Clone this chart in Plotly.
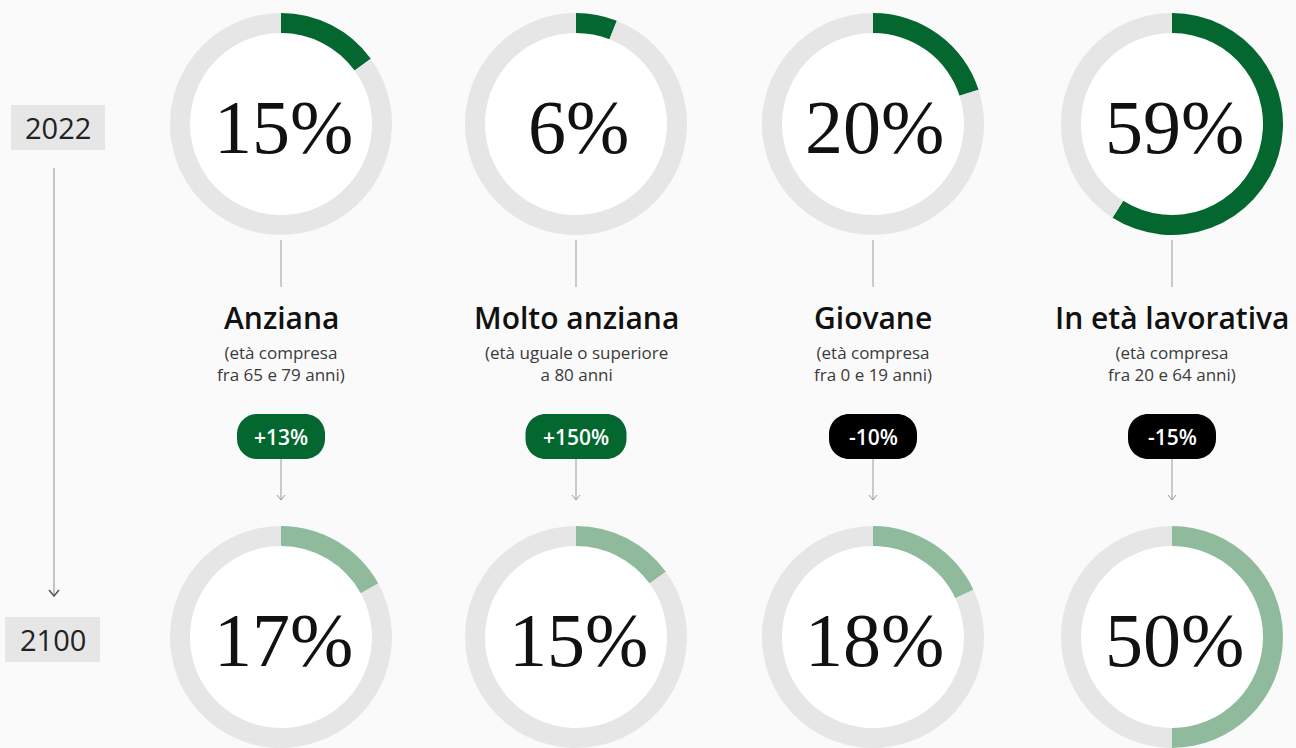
import plotly.graph_objects as go

W, H = 1296, 748

# ---- data ----
categories = ["Anziana", "Molto anziana", "Giovane", "In età lavorativa"]
subtitles = [
    "(età compresa<br>fra 65 e 79 anni)",
    "(età uguale o superiore<br>a 80 anni",
    "(età compresa<br>fra 0 e 19 anni)",
    "(età compresa<br>fra 20 e 64 anni)",
]
share_2022 = [15, 6, 20, 59]
share_2100 = [17, 15, 18, 50]
changes = ["+13%", "+150%", "-10%", "-15%"]
years = ["2022", "2100"]

# ---- style ----
BG = "#fafafa"
RING = "#e6e6e6"
DARK_GREEN = "#03672f"
LIGHT_GREEN = "#8fbb9c"
col_x = [281, 576, 873, 1172]
row_y = [124, 637]
R_OUT = 111
HOLE = 0.82
SERIF = "Liberation Serif, Times New Roman, serif"
SANS = "Open Sans, Noto Sans, sans-serif"


def px(x):
    return x / W


def py(y):
    return 1 - y / H


fig = go.Figure()
shapes = []
annotations = []

for row, (vals, col) in enumerate([(share_2022, DARK_GREEN), (share_2100, LIGHT_GREEN)]):
    cy = row_y[row]
    for i, v in enumerate(vals):
        cx = col_x[i]
        ri = R_OUT * HOLE + 0.5
        shapes.append(dict(type="circle", xref="paper", yref="paper", layer="below",
                           x0=px(cx - ri), x1=px(cx + ri), y0=py(cy + ri), y1=py(cy - ri),
                           fillcolor="white", line=dict(width=0)))
        fig.add_trace(go.Pie(
            values=[v, 100 - v],
            marker=dict(colors=[col, RING], line=dict(width=0)),
            hole=HOLE, sort=False, direction="clockwise", rotation=0,
            textinfo="none", hoverinfo="skip", showlegend=False,
            domain=dict(x=[px(cx - R_OUT), px(cx + R_OUT)],
                        y=[py(cy + R_OUT), py(cy - R_OUT)]),
        ))
        annotations.append(dict(x=px(cx + 2), y=py(cy + 3), xref="paper", yref="paper",
                                text=f"{v}%", showarrow=False, xanchor="center", yanchor="middle",
                                font=dict(family=SERIF, size=76, color="#111")))

# connectors, titles, badges
for i, cx in enumerate(col_x):
    shapes.append(dict(type="line", xref="paper", yref="paper",
                       x0=px(cx), x1=px(cx), y0=py(240), y1=py(287),
                       line=dict(color="#9a9a9a", width=1)))
    annotations.append(dict(x=px(cx), y=py(318), xref="paper", yref="paper",
                            text=categories[i], showarrow=False, xanchor="center", yanchor="middle",
                            font=dict(family=SANS, size=30, color="#111", weight=600)))
    annotations.append(dict(x=px(cx), y=py(364), xref="paper", yref="paper",
                            text=subtitles[i], showarrow=False, xanchor="center", yanchor="middle",
                            font=dict(family=SANS, size=17, color="#3a3a3a")))
    # badge
    bw = 101 if len(changes[i]) > 4 else 88
    bh = 45
    x0, x1 = cx - bw / 2, cx + bw / 2
    y0, y1 = 414, 414 + bh
    r = 20
    k = 0.5523 * r
    pth = (f"M {px(x0 + r)},{py(y0)} L {px(x1 - r)},{py(y0)} "
           f"C {px(x1 - r + k)},{py(y0)} {px(x1)},{py(y0 + r - k)} {px(x1)},{py(y0 + r)} "
           f"L {px(x1)},{py(y1 - r)} "
           f"C {px(x1)},{py(y1 - r + k)} {px(x1 - r + k)},{py(y1)} {px(x1 - r)},{py(y1)} "
           f"L {px(x0 + r)},{py(y1)} "
           f"C {px(x0 + r - k)},{py(y1)} {px(x0)},{py(y1 - r + k)} {px(x0)},{py(y1 - r)} "
           f"L {px(x0)},{py(y0 + r)} "
           f"C {px(x0)},{py(y0 + r - k)} {px(x0 + r - k)},{py(y0)} {px(x0 + r)},{py(y0)} Z")
    bcol = DARK_GREEN if changes[i].startswith("+") else "#000000"
    shapes.append(dict(type="path", xref="paper", yref="paper", path=pth,
                       fillcolor=bcol, line=dict(width=0)))
    annotations.append(dict(x=px(cx), y=py(437), xref="paper", yref="paper",
                            text=changes[i], showarrow=False, xanchor="center", yanchor="middle",
                            font=dict(family=SANS, size=21, color="white", weight=600)))
    # arrow below badge
    shapes.append(dict(type="line", xref="paper", yref="paper",
                       x0=px(cx), x1=px(cx), y0=py(459), y1=py(500),
                       line=dict(color="#9a9a9a", width=1)))
    shapes.append(dict(type="path", xref="paper", yref="paper",
                       path=f"M {px(cx - 4)},{py(495)} L {px(cx)},{py(500)} L {px(cx + 4)},{py(495)}",
                       line=dict(color="#9a9a9a", width=1)))

# timeline on the left
shapes.append(dict(type="line", xref="paper", yref="paper",
                   x0=px(54), x1=px(54), y0=py(168), y1=py(596),
                   line=dict(color="#c4c4c4", width=2)))
shapes.append(dict(type="path", xref="paper", yref="paper",
                   path=f"M {px(49)},{py(590)} L {px(54)},{py(596)} L {px(59)},{py(590)}",
                   line=dict(color="#555", width=1.5)))

for (bx0, bx1, by0, by1), yr in zip([(11, 105, 105, 150), (5, 100, 617, 662)], years):
    shapes.append(dict(type="rect", xref="paper", yref="paper", layer="below",
                       x0=px(bx0), x1=px(bx1), y0=py(by1), y1=py(by0),
                       fillcolor="#e6e6e6", line=dict(width=0)))
    annotations.append(dict(x=px((bx0 + bx1) / 2), y=py((by0 + by1) / 2), xref="paper", yref="paper",
                            text=yr, showarrow=False, xanchor="center", yanchor="middle",
                            font=dict(family=SANS, size=29, color="#222")))

fig.update_layout(
    width=W, height=H,
    margin=dict(l=0, r=0, t=0, b=0),
    paper_bgcolor=BG, plot_bgcolor=BG,
    shapes=shapes, annotations=annotations,
    showlegend=False,
)

fig.write_html("out.html", config={"displayModeBar": False},
               post_script="document.body.style.margin='0';document.body.style.overflow='hidden';")
